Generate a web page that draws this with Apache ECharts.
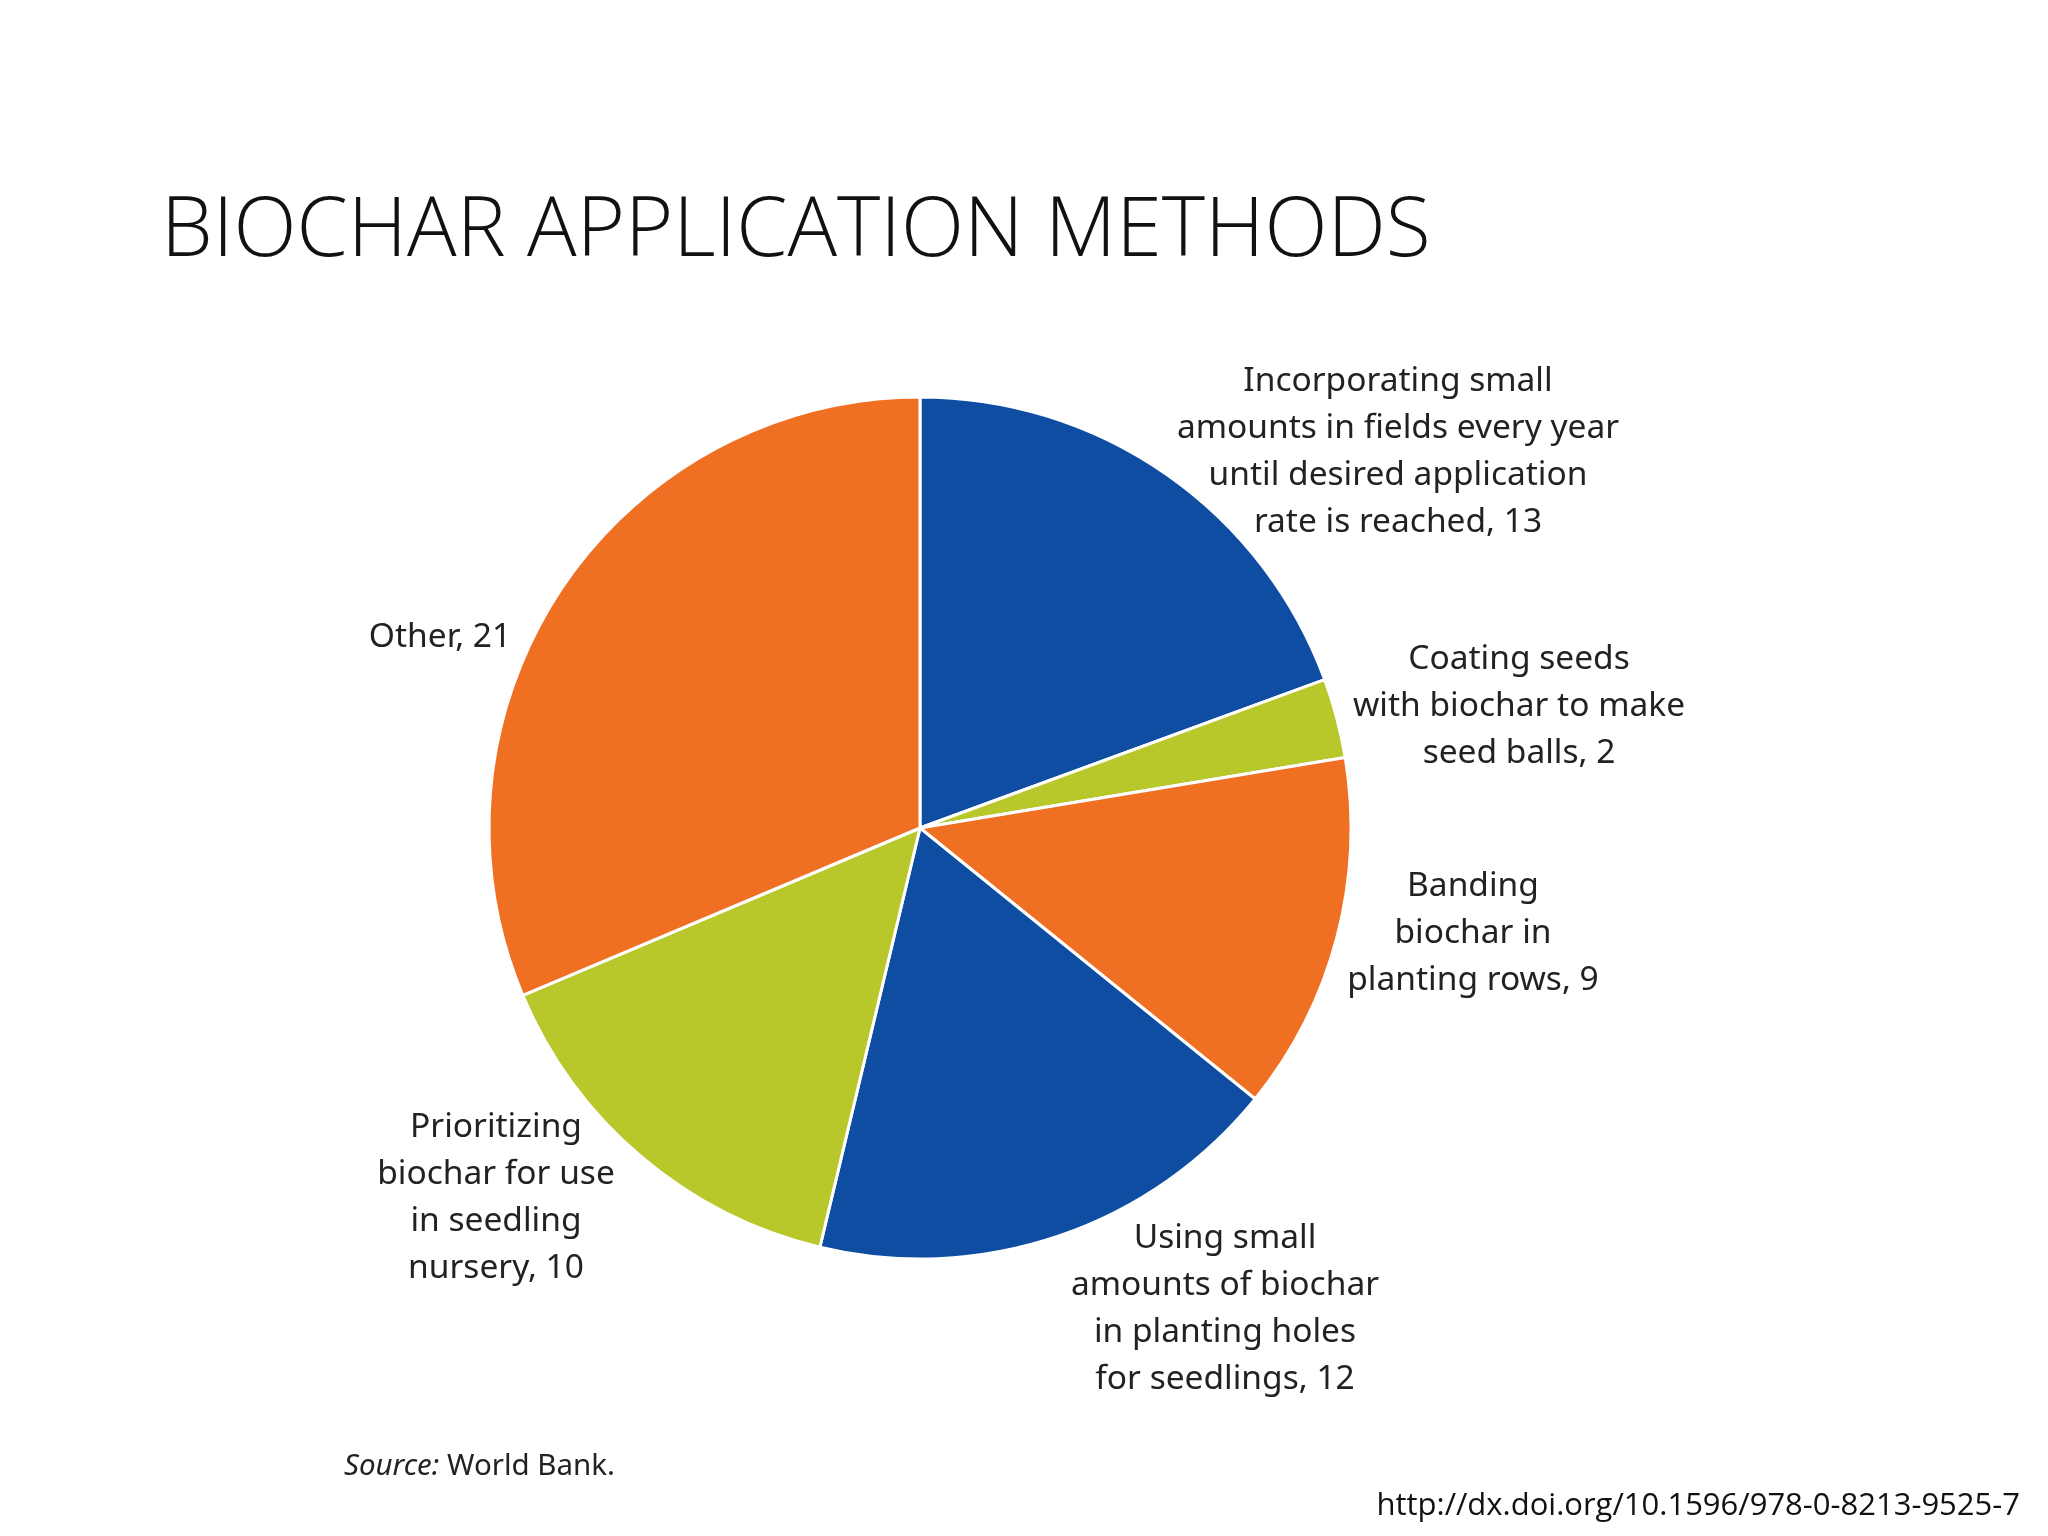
<!DOCTYPE html>
<html>
<head>
<meta charset="utf-8">
<script src="https://cdn.jsdelivr.net/npm/echarts@6/dist/echarts.min.js"></script>
<style>
html,body{margin:0;padding:0;background:#fff;}
#chart{width:2048px;height:1536px;}
</style>
</head>
<body>
<div id="chart"></div>
<script>
var categories = [
  "Incorporating small\namounts in fields every year\nuntil desired application\nrate is reached",
  "Coating seeds\nwith biochar to make\nseed balls",
  "Banding\nbiochar in\nplanting rows",
  "Using small\namounts of biochar\nin planting holes\nfor seedlings",
  "Prioritizing\nbiochar for use\nin seedling\nnursery",
  "Other"
];
var values = [13, 2, 9, 12, 10, 21];
var colors = ["#0F4DA2", "#B8C72A", "#F07023", "#0F4DA2", "#B8C72A", "#F07023"];
var labelPos = [
  [1398, 452], [1519, 706], [1473, 933], [1225, 1309], [496, 1198], [440, 637]
];

var chart = echarts.init(document.getElementById('chart'));
chart.setOption({
  backgroundColor: '#ffffff',
  animation: false,
  title: {
    text: 'BIOCHAR APPLICATION METHODS',
    left: 156, top: 186,
    textStyle: {fontFamily: 'Open Sans', fontWeight: 300, fontSize: 82.5, color: '#111'}
  },
  graphic: [
    {type: 'text', left: 344, top: 1452, style: {
      text: '{i|Source:} World Bank.',
      rich: {i: {fontStyle: 'italic', fontFamily: 'Noto Sans', fontSize: 29.5, fill: '#222'}},
      fontFamily: 'Noto Sans', fontSize: 29.5, fill: '#222'}},
    {type: 'text', right: 28, top: 1491, style: {
      text: 'http://dx.doi.org/10.1596/978-0-8213-9525-7',
      fontFamily: 'Open Sans', fontSize: 31, fill: '#111'}}
  ],
  series: [{
    type: 'pie',
    center: [920, 828],
    radius: 431,
    startAngle: 90,
    clockwise: true,
    data: values.map(function (v, i) {
      return {value: v, name: categories[i], itemStyle: {color: colors[i]}};
    }),
    itemStyle: {borderColor: '#ffffff', borderWidth: 3},
    label: {
      show: true,
      formatter: function (p) { return p.name + ', ' + p.value; },
      fontFamily: 'Noto Sans', fontSize: 33.5, lineHeight: 47, color: '#222'
    },
    labelLine: {show: false},
    labelLayout: function (p) {
      var pos = labelPos[p.dataIndex];
      return {x: pos[0], y: pos[1], align: 'center', verticalAlign: 'middle'};
    },
    emphasis: {disabled: true}
  }]
});
</script>
</body>
</html>
